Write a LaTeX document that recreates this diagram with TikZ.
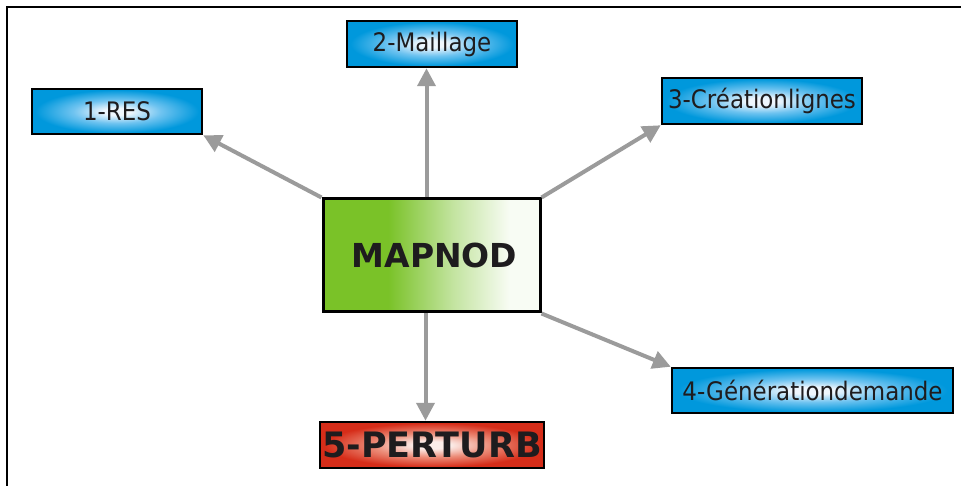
\documentclass[tikz,border=0pt]{standalone}
\usepackage{fontspec}
\setmainfont{DejaVu Sans}
\newfontfamily\condf{DejaVu Sans Condensed}
\usetikzlibrary{arrows.meta}
\definecolor{bl}{RGB}{0,152,220}
\definecolor{blm}{RGB}{110,195,240}
\definecolor{bll}{RGB}{238,246,253}
\definecolor{gr}{RGB}{122,194,40}
\definecolor{grl}{RGB}{195,228,160}
\definecolor{grw}{RGB}{248,252,244}
\definecolor{rd}{RGB}{214,45,25}
\definecolor{rdm}{RGB}{236,140,120}
\definecolor{rdl}{RGB}{252,238,234}
\definecolor{tx}{RGB}{30,28,30}
\definecolor{ar}{RGB}{155,155,155}
\pgfdeclareradialshading{blueshade}{\pgfpoint{0bp}{0bp}}{color(0bp)=(bll); color(4bp)=(bll); color(13bp)=(blm); color(24bp)=(bl); color(50bp)=(bl)}
\pgfdeclareradialshading{redshade}{\pgfpoint{0bp}{0bp}}{color(0bp)=(rdl); color(4bp)=(rdl); color(13bp)=(rdm); color(24bp)=(rd); color(50bp)=(rd)}
\pgfdeclarehorizontalshading{greenshade}{100bp}{color(0bp)=(gr); color(25bp)=(gr); color(40bp)=(gr); color(55bp)=(grl); color(68bp)=(grw); color(75bp)=(grw); color(100bp)=(grw)}
\tikzset{
  bluebox/.style={draw=black, line width=2.5pt, shading=blueshade, text=tx,
    font=\condf\fontsize{25.5}{30}\selectfont, inner sep=0pt},
  mainbox/.style={draw=black, line width=3pt, shading=greenshade, text=tx,
    font=\bfseries\fontsize{33}{38}\selectfont, inner sep=0pt,
    minimum width=217pt, minimum height=113pt},
  redbox/.style={draw=black, line width=2.5pt, shading=redshade, text=tx,
    font=\bfseries\fontsize{35}{40}\selectfont, inner sep=0pt,
    minimum width=224pt, minimum height=46pt},
  arr/.style={draw=ar, line width=4pt, -{Triangle[length=18pt,width=18pt]}},
  frameline/.style={draw=black, line width=1.5pt}
}
\begin{document}
\begin{tikzpicture}[x=1pt,y=-1pt]
\useasboundingbox (0,0) rectangle (961,486);
\coordinate (fa) at (7,486);
\coordinate (fb) at (7,7);
\coordinate (fc) at (961,7);
\draw[frameline] (fa) -- (fb) -- (fc);

\node[bluebox, minimum width=170pt, minimum height=45pt] (n1) at (117,111.5) {1-RES};
\node[bluebox, minimum width=170pt, minimum height=46pt] (n2) at (432,44) {2-Maillage};
\node[bluebox, minimum width=200pt, minimum height=46pt] (n3) at (762,101) {3-Créationlignes};
\node[mainbox] (main) at (431.5,255.5) {\hspace{6pt}MAPNOD};
\node[bluebox, minimum width=281pt, minimum height=45pt] (n4) at (812.5,390.5) {4-Générationdemande};
\node[redbox] (n5) at (432,445) {5-PERTURB};

\draw[arr] (main.north west) -- (n1.south east);
\draw[arr] ([xshift=-5pt]main.north) -- ([xshift=-5pt]main.north |- n2.south);
\draw[arr] (main.north east) -- (n3.south west);
\draw[arr] (main.south east) -- (n4.north west);
\draw[arr] ([xshift=-6pt]main.south) -- ([xshift=-6pt]main.south |- n5.north);
\end{tikzpicture}
\end{document}
